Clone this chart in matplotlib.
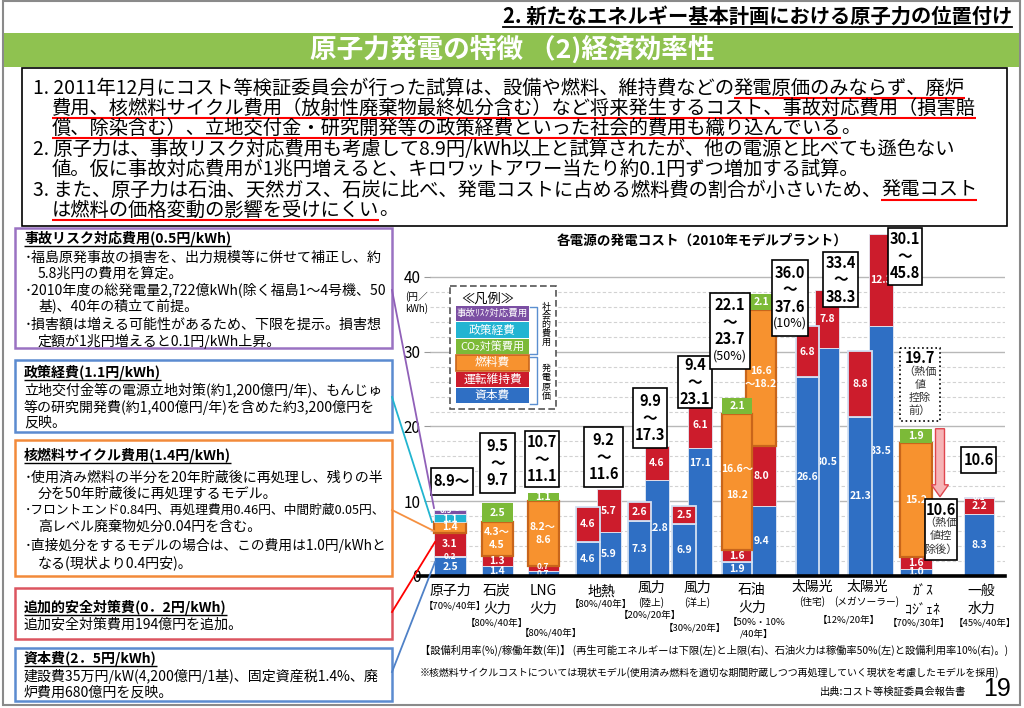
import numpy as np
import matplotlib.pyplot as plt
from matplotlib.patches import Rectangle, FancyArrow

plt.rcParams['font.family'] = ['Noto Sans CJK JP', 'DejaVu Sans']

# ---- chart data (円/kWh) : one entry per bar ----
# 再エネは下限(左)/上限(右)、石油火力は稼働率50%(左)/設備利用率10%(右)
bar_names = ['原子力', '石炭火力', 'LNG火力', '地熱(下)', '地熱(上)', '陸上風力(下)', '陸上風力(上)',
             '洋上風力(下)', '洋上風力(上)', '石油(50%)', '石油(10%)', '住宅PV(下)', '住宅PV(上)',
             'メガソーラー(下)', 'メガソーラー(上)', 'ガスコジェネ', '一般水力']
capital = [2.5, 1.4, 0.7, 4.6, 5.9, 7.3, 12.8, 6.9, 17.1, 1.9, 9.4, 26.6, 30.5, 21.3, 33.5, 1.0, 8.3]
safety = [0.2, 0, 0, 0, 0, 0, 0, 0, 0, 0, 0, 0, 0, 0, 0, 0, 0]
om = [3.1, 1.3, 0.7, 4.6, 5.7, 2.6, 4.6, 2.5, 6.1, 1.6, 8.0, 6.8, 7.8, 8.8, 12.3, 1.6, 2.2]
fuel = [1.4, 4.5, 8.6, 0, 0, 0, 0, 0, 0, 18.2, 18.2, 0, 0, 0, 0, 15.2, 0]
co2 = [0, 2.5, 1.1, 0, 0, 0, 0, 0, 0, 2.1, 2.1, 0, 0, 0, 0, 1.9, 0]
policy = [1.1, 0, 0, 0, 0, 0, 0, 0, 0, 0, 0, 0, 0, 0, 0, 0, 0]
accident = [0.5, 0, 0, 0, 0, 0, 0, 0, 0, 0, 0, 0, 0, 0, 0, 0, 0.1]
fuel_lbl = ['1.4', '4.3～\n4.5', '8.2～\n8.6', '', '', '', '', '', '', '16.6～\n\n18.2', '16.6\n～18.2',
            '', '', '', '', '15.2', '']
accident_lbl = ['0.5～', '', '', '', '', '', '', '', '', '', '', '', '', '', '', '', '0.1']
range_lbl = ['8.9～', '9.5\n～\n9.7', '10.7\n～\n11.1', '9.2\n～\n11.6', '9.9\n～\n17.3', '9.4\n～\n23.1',
             '22.1\n～\n23.7\n(50%)', '36.0\n～\n37.6\n(10%)', '33.4\n～\n38.3', '30.1\n～\n45.8', '10.6']
cogen_before, cogen_after = 19.7, 10.6

categories = ['原子力', '石炭\n火力', 'LNG\n火力', '地熱', '風力', '風力', '石油\n火力', '太陽光', '太陽光',
              'ｶﾞｽ\nｺｼﾞｪﾈ', '一般\n水力']
cat_sub = ['', '', '', '', '(陸上)', '(洋上)', '', '(住宅)', '(メガソーラー)', '', '']
cat_rate = ['【70%/40年】', '【80%/40年】', '【80%/40年】', '【80%/40年】', '【20%/20年】', '【30%/20年】',
            '【50%・10%\n/40年】', '【12%/20年】', '', '【70%/30年】', '【45%/40年】']

# ---- layout (pixels) ----
bar_x = [450, 497, 543, 588, 609, 639, 657, 684, 700, 737, 761, 807, 827, 860, 881, 916, 979]
bar_w = [32, 31, 31, 24, 24, 23, 24, 24, 24, 30, 30, 23, 24, 24, 24, 32, 30]
front = [0, 0, 0, 1, 0, 1, 0, 1, 0, 1, 0, 1, 0, 1, 0, 0, 0]
# label height overrides (series index, bar index) -> y in chart units
label_y = {(0, 8): 15.1, (0, 2): 0.3, (2, 2): 1.3, (6, 0): 8.8, (5, 0): 7.6}
cat_x = [450, 497, 543, 601, 651, 697, 752, 812, 867, 923, 981]
cat_y = [591, 591, 591, 592, 588, 588, 590, 587, 587, 592, 591]
rate_xy = [(455, 606), (497, 623), (551, 633), (601, 604), (650, 615), (695, 628), (757, 622),
           (849, 620), (0, 0), (919, 623), (985, 623)]
# value boxes: x0, y0, x1, y1
range_box = [(431, 468, 473, 495), (480, 433, 515, 493), (525, 431, 559, 487), (584, 427, 623, 487),
             (633, 388, 667, 448), (678, 356, 712, 408), (710, 293, 750, 369), (772, 260, 808, 336),
             (823, 252, 858, 307), (888, 228, 922, 285), (961, 447, 996, 473)]

BLUE = '#2f6fc4'
BLUE2 = '#4180d0'
RED = '#cc1c2c'
ORANGE = '#f7922f'
ORANGE_EDGE = '#c8651b'
GREEN = '#7cba38'
CYAN = '#22b4d2'
PURPLE = '#7b4fa3'
BAND = '#8fc250'

W, H = 1024, 708
fig = plt.figure(figsize=(W / 100, H / 100), dpi=100)
bg = fig.add_axes([0, 0, 1, 1], zorder=0)
ov = fig.add_axes([0, 0, 1, 1], zorder=2)
for a in (bg, ov):
    a.set_xlim(0, W)
    a.set_ylim(H, 0)
    a.axis('off')
renderer = fig.canvas.get_renderer()


def width_of(t):
    return t.get_window_extent(renderer).width


def fit(axx, x, y, s, width, size, **kw):
    t = axx.text(x, y, s, fontsize=size, va='center', **kw)
    t.set_fontsize(size * width / width_of(t))
    return t


def runs(axx, x, y, parts, size, weight='normal', ucolor='red', ulw=1.5, uoff=0.75):
    for s, ul in parts:
        t = axx.text(x, y, s, fontsize=size, fontweight=weight, va='center', ha='left')
        w = width_of(t)
        if ul:
            yy = y + size * uoff
            axx.plot([x, x + w], [yy, yy], color=ucolor, lw=ulw, solid_capstyle='butt')
        x += w


# ---- page frame, header, title band ----
bg.add_patch(Rectangle((3, 1), 1017, 704, fill=False, ec='#8a8a8a', lw=1.5))
t = fit(bg, 1012, 16, '2. 新たなエネルギー基本計画における原子力の位置付け', 511, 14,
        ha='right', fontweight='bold')
bg.plot([1012 - width_of(t), 1012], [27, 27], color='k', lw=1.3)
bg.add_patch(Rectangle((4, 33), 1015, 34, color=BAND, lw=0))
fit(bg, 512, 50, '原子力発電の特徴 （2)経済効率性', 405, 19, ha='center', color='white', fontweight='bold')

# ---- summary text ----
bg.add_patch(Rectangle((22, 68), 985, 158, fill=False, ec='k', lw=1.2))
top_lines = [
    (33, 88, [('1. 2011年12月にコスト等検証委員会が行った試算は、設備や燃料、維持費などの', 0), ('発電原価のみならず、廃炉', 1)]),
    (52, 108, [('費用、核燃料サイクル費用（放射性廃棄物最終処分含む）など将来発生するコスト、事故対応費用（損害賠', 1)]),
    (52, 128, [('償、除染含む）、立地交付金・研究開発等の政策経費といった社会的費用も織り込んでいる', 1), ('。', 0)]),
    (33, 149, [('2. 原子力は、事故リスク対応費用も考慮して8.9円/kWh以上と試算されたが、他の電源と比べても遜色ない', 0)]),
    (52, 169, [('値。仮に事故対応費用が1兆円増えると、キロワットアワー当たり約0.1円ずつ増加する試算。', 0)]),
    (33, 190, [('3. また、原子力は石油、天然ガス、石炭に比べ、発電コストに占める燃料費の割合が小さいため、', 0), ('発電コスト', 1)]),
    (52, 210, [('は燃料の価格変動の影響を受けにくい', 1), ('。', 0)]),
]
probe = bg.text(0, 0, top_lines[1][2][0][0], fontsize=14)
top_size = 14 * 928 / width_of(probe)
probe.remove()
for x, y, parts in top_lines:
    runs(bg, x, y, parts, top_size, uoff=0.7)

# ---- left explanation boxes ----
left_boxes = [
    ('#9a72c2', 228, 348, '事故リスク対応費用(0.5円/kWh)', 238, [
        (25, 257, '･福島原発事故の損害を、出力規模等に併せて補正し、約'),
        (38, 274, '5.8兆円の費用を算定。'),
        (25, 290, '･2010年度の総発電量2,722億kWh(除く福島1～4号機、50'),
        (38, 307, '基)、40年の積立て前提。'),
        (25, 325, '･損害額は増える可能性があるため、下限を提示。損害想'),
        (38, 341, '定額が1兆円増えると0.1円/kWh上昇。')]),
    ('#5b8bd0', 360, 432, '政策経費(1.1円/kWh)', 372, [
        (24, 390, '立地交付金等の電源立地対策(約1,200億円/年)、もんじゅ'),
        (24, 407, '等の研究開発費(約1,400億円/年)を含めた約3,200億円を'),
        (24, 423, '反映。')]),
    ('#f28a3a', 440, 576, '核燃料サイクル費用(1.4円/kWh)', 455, [
        (25, 478, '･使用済み燃料の半分を20年貯蔵後に再処理し、残りの半'),
        (38, 494, '分を50年貯蔵後に再処理するモデル。'),
        (25, 510, '･フロントエンド0.84円、再処理費用0.46円、中間貯蔵0.05円、'),
        (38, 527, '高レベル廃棄物処分0.04円を含む。'),
        (25, 545, '･直接処分をするモデルの場合は、この費用は1.0円/kWhと'),
        (38, 563, 'なる(現状より0.4円安)。')]),
    ('#dc5560', 588, 639, '追加的安全対策費(0．2円/kWh)', 607, [
        (24, 624, '追加安全対策費用194億円を追加。')]),
    ('#5b8bd0', 648, 701, '資本費(2．5円/kWh)', 658, [
        (24, 676, '建設費35万円/kW(4,200億円/1基)、固定資産税1.4%、廃'),
        (24, 693, '炉費用680億円を反映。')]),
]
probe = bg.text(0, 0, left_boxes[0][5][0][2], fontsize=10)
box_size = 10 * 357 / width_of(probe)
probe.remove()
for col, y0, y1, title, ty, lines in left_boxes:
    bg.add_patch(Rectangle((15, y0), 377, y1 - y0, fill=False, ec=col, lw=1.8))
    runs(bg, 24, ty, [(title, 1)], box_size, weight='bold', ucolor='k', ulw=1.0, uoff=0.78)
    for x, y, s in lines:
        t = bg.text(x, y, s, fontsize=box_size, va='center')
        if x + width_of(t) > 386:
            t.set_fontsize(box_size * (386 - x) / width_of(t))

# connectors from boxes to the nuclear bar
for col, p0, p1 in [('#9060b8', (392, 290), (434, 508)), ('#22b5d0', (392, 397), (432, 522)),
                    ('#f59040', (392, 510), (434, 531)), ('#ff0000', (392, 612), (435, 542)),
                    ('#4f81c7', (392, 672), (435, 562))]:
    ov.plot([p0[0], p1[0]], [p0[1], p1[1]], color=col, lw=1.3)

# ---- chart ----
ax = fig.add_axes([430 / W, 1 - 576 / H, 575 / W, 348 / H], zorder=1)
ax.set_xlim(430, 1005)
ax.set_ylim(0, 46.55)
ax.set_facecolor('none')
for s in ax.spines.values():
    s.set_visible(False)
ax.set_yticks([0, 10, 20, 30, 40])
ax.set_yticks(np.arange(2, 40, 2), minor=True)
ax.tick_params(axis='y', which='major', length=4, color='#999999', pad=3, labelsize=11)
ax.tick_params(axis='y', which='minor', length=0)
ax.tick_params(axis='x', bottom=False, labelbottom=False)
ax.grid(axis='y', which='major', color='#b8b8b8', lw=1)
ax.grid(axis='y', which='minor', color='#d2d2d2', lw=0.8, ls=(0, (3, 2)))
ax.set_axisbelow(True)
ax.plot([418, 1005], [0, 0], color='k', lw=2.6, clip_on=False, zorder=6)
ppu = 348 / 46.55

series = [(capital, BLUE, None), (safety, BLUE2, None), (om, RED, None), (fuel, ORANGE, fuel_lbl),
          (co2, GREEN, None), (policy, CYAN, None), (accident, PURPLE, accident_lbl)]
bottom = np.zeros(len(bar_x))
for si, (vals, col, lbls) in enumerate(series):
    for i, v in enumerate(vals):
        if v == 0:
            continue
        z = 3 if front[i] else 2
        if col == ORANGE:
            ec, lw = ORANGE_EDGE, 1.6
        elif col == GREEN:
            ec, lw = col, 0
        elif front[i]:
            ec, lw = '#d3e0f2', 1.3
        else:
            ec, lw = '#e3eaf5', 0.6
        ax.bar(bar_x[i], v, bar_w[i], bottom=bottom[i], color=col, edgecolor=ec, linewidth=lw, zorder=z)
        s = lbls[i] if lbls else f'{v:.1f}'
        fs = 6.0 if v < 0.8 else 7.5
        yc = label_y.get((si, i), bottom[i] + v / 2)
        rows = s.split('\n')
        for k, r in enumerate(rows):
            dy = (k - (len(rows) - 1) / 2) * 13 / ppu
            ax.text(bar_x[i], yc - dy, r, ha='center', va='center', color='white',
                    fontsize=fs, fontweight='bold', zorder=z + 0.5 if front[i] else 2.5)
        bottom[i] += v

# gas cogeneration: heat value deduction arrow
ax.add_patch(FancyArrow(940, cogen_before, 0, cogen_after - cogen_before, width=9, head_width=17,
                        head_length=1.6, length_includes_head=True, fc='#f6b4b6', ec='#e0464e',
                        lw=1, zorder=4))

# value-range boxes
for s, (x0, y0, x1, y1) in zip(range_lbl, range_box):
    ov.add_patch(Rectangle((x0, y0), x1 - x0, y1 - y0, fc='white', ec='k', lw=1.2))
    rows = s.split('\n')
    yc = (y0 + y1) / 2
    for k, r in enumerate(rows):
        yy = yc + (k - (len(rows) - 1) / 2) * 17
        if r.startswith('('):
            ov.text((x0 + x1) / 2, yy, r, ha='center', va='center', fontsize=9)
        else:
            ov.text((x0 + x1) / 2, yy, r, ha='center', va='center', fontsize=10.5, fontweight='bold')

for (x0, y0, x1, y1), ls, first, rest in [
        ((900, 348, 940, 421), ':', f'{cogen_before:.1f}', ['（熱価', '値', '控除', '前）']),
        ((925, 499, 957, 560), '-', f'{cogen_after:.1f}', ['（熱価', '値控', '除後）'])]:
    ov.add_patch(Rectangle((x0, y0), x1 - x0, y1 - y0, fc='white', ec='k', lw=1.2, ls=ls))
    rows = [first] + rest
    yc = (y0 + y1) / 2
    for k, r in enumerate(rows):
        yy = yc + (k - (len(rows) - 1) / 2) * 13.3
        if k == 0:
            ov.text((x0 + x1) / 2, yy, r, ha='center', va='center', fontsize=10.5, fontweight='bold')
        else:
            ov.text((x0 + x1) / 2, yy, r, ha='center', va='center', fontsize=8, color='#333333')

# chart title, unit
fit(ov, 702, 241, '各電源の発電コスト（2010年モデルプラント）', 290, 10, ha='center', fontweight='bold')
ov.text(417, 297, '(円／', ha='center', va='center', fontsize=7)
ov.text(417, 309, 'kWh)', ha='center', va='center', fontsize=7)

# legend
ov.add_patch(Rectangle((450, 286), 106, 123, fc='white', ec='#555555', lw=1.2, ls=(0, (4, 2))))
ov.text(488, 299, '≪凡例≫', ha='center', va='center', fontsize=9.5)
legend_items = [('事故ﾘｽｸ対応費用', PURPLE, 6.8), ('政策経費', CYAN, 8.5), ('CO₂対策費用', GREEN, 8),
                ('燃料費', ORANGE, 8.5), ('運転維持費', RED, 8.5), ('資本費', BLUE, 8.5)]
for k, (name, col, fs) in enumerate(legend_items):
    y0 = 306 + k * 16.4
    ec = ORANGE_EDGE if col == ORANGE else col
    ov.add_patch(Rectangle((456, y0), 73, 15.4, fc=col, ec=ec, lw=1.2 if col == ORANGE else 0))
    ov.text(492.5, y0 + 7.7, name, ha='center', va='center', fontsize=fs, color='white')
for ya, yb in [(307, 354), (357, 404)]:
    ov.plot([530, 537, 537, 530], [ya, ya, yb, yb], color='#5b8fd0', lw=1)
for k, ch in enumerate('社会的費用'):
    ov.text(546, 307 + k * 8.8, ch, ha='center', va='center', fontsize=6.5)
for k, ch in enumerate('発電原価'):
    ov.text(546, 368 + k * 9.6, ch, ha='center', va='center', fontsize=6.5)

# category labels
for k, name in enumerate(categories):
    for j, r in enumerate(name.split('\n')):
        ov.text(cat_x[k], cat_y[k] + j * 18, r, ha='center', va='center', fontsize=10)
    if cat_sub[k]:
        ov.text(cat_x[k], cat_y[k] + 15, cat_sub[k], ha='center', va='center', fontsize=7)
    if cat_rate[k]:
        rx, ry = rate_xy[k]
        for j, r in enumerate(cat_rate[k].split('\n')):
            ov.text(rx, ry + j * 12, r, ha='center', va='center', fontsize=6.8)

# notes
fit(ov, 420, 650, '【設備利用率(%)/稼働年数(年)】 (再生可能エネルギーは下限(左)と上限(右)、石油火力は稼働率50%(左)と設備利用率10%(右)。)',
    587, 7.5, ha='left')
fit(ov, 420, 673, '※核燃料サイクルコストについては現状モデル(使用済み燃料を適切な期間貯蔵しつつ再処理していく現状を考慮したモデルを採用)',
    580, 7.5, ha='left')
fit(ov, 893, 692, '出典:コスト等検証委員会報告書', 146, 8, ha='center')
ov.text(997, 689, '19', ha='center', va='center', fontsize=18, family='Liberation Sans')

fig.savefig('out.png', dpi=100)
